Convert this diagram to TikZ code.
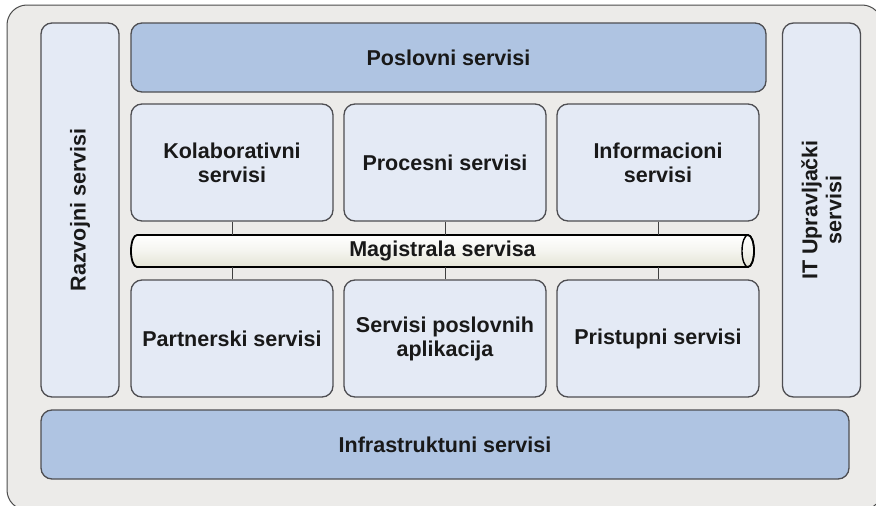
\documentclass[tikz,border=0pt]{standalone}
\usepackage{fontspec}
\setmainfont{Liberation Sans}
\definecolor{bgframe}{RGB}{236,235,233}
\definecolor{lightbox}{RGB}{228,234,245}
\definecolor{darkbox}{RGB}{175,196,226}
\definecolor{edge}{RGB}{78,78,82}
\definecolor{pipebot}{RGB}{228,228,214}
\tikzset{
  svc/.style={draw=edge, line width=1.3pt, rounded corners=11pt, inner sep=0pt,
    align=center, font=\fontsize{21.5}{24}\selectfont\bfseries, text=black!90},
  lsvc/.style={svc, fill=lightbox},
  dsvc/.style={svc, fill=darkbox},
  conn/.style={draw=black!75, line width=0.9pt},
  pipeline/.style={draw=black, line width=1.8pt}
}
\begin{document}
\begin{tikzpicture}[x=1pt,y=-1pt]
\useasboundingbox (0,0) rectangle (876,506);
\clip (0,0) rectangle (876,506);
\fill[white] (0,0) rectangle (876,506);
\draw[draw=black!70, line width=1pt, fill=bgframe, rounded corners=20pt] (7,5) rectangle (882,510);
% side columns
\node[lsvc, minimum width=374pt, minimum height=78pt, rotate=90] (razv) at (80,210) {Razvojni servisi};
\node[lsvc, minimum width=374pt, minimum height=78pt, rotate=90] (itup) at (821.5,210) {IT Upravlja\v{c}ki\\servisi};
% top and bottom bands
\node[dsvc, minimum width=635pt, minimum height=69pt] (posl) at (448.5,57.5) {Poslovni servisi};
\node[dsvc, minimum width=808pt, minimum height=69pt] (infra) at (445,444.5) {Infrastruktuni servisi};
% upper row
\node[lsvc, minimum width=202pt, minimum height=117pt] (kol) at (232,162.5) {Kolaborativni\\servisi};
\node[lsvc, minimum width=202pt, minimum height=117pt] (proc) at (445,162.5) {Procesni servisi};
\node[lsvc, minimum width=202pt, minimum height=117pt] (info) at (658,162.5) {Informacioni\\servisi};
% lower row
\node[lsvc, minimum width=202pt, minimum height=117pt] (part) at (232,338.5) {Partnerski servisi};
\node[lsvc, minimum width=202pt, minimum height=117pt] (app) at (445,338.5) {Servisi poslovnih\\aplikacija};
\node[lsvc, minimum width=202pt, minimum height=117pt] (pris) at (658,338.5) {Pristupni servisi};
% pipe (service bus)
\path[pipeline, top color=white, bottom color=pipebot, middle color=white!60!pipebot]
  (137,235) -- (748,235) arc(-90:90:6 and 16) -- (137,267) arc(90:270:6 and 16) -- cycle;
\draw[pipeline, line width=1.4pt] (748,251) ellipse (6 and 16);
\node[minimum width=617pt, minimum height=32pt, inner sep=0pt,
  font=\fontsize{21.5}{24}\selectfont\bfseries, text=black!90] (pipe) at (442.5,251) {Magistrala servisa};
% connectors
\draw[conn] (kol.south) -- (kol.south |- pipe.north);
\draw[conn] (proc.south) -- (proc.south |- pipe.north);
\draw[conn] (info.south) -- (info.south |- pipe.north);
\draw[conn] (part.north) -- (part.north |- pipe.south);
\draw[conn] (app.north) -- (app.north |- pipe.south);
\draw[conn] (pris.north) -- (pris.north |- pipe.south);
\end{tikzpicture}
\end{document}
